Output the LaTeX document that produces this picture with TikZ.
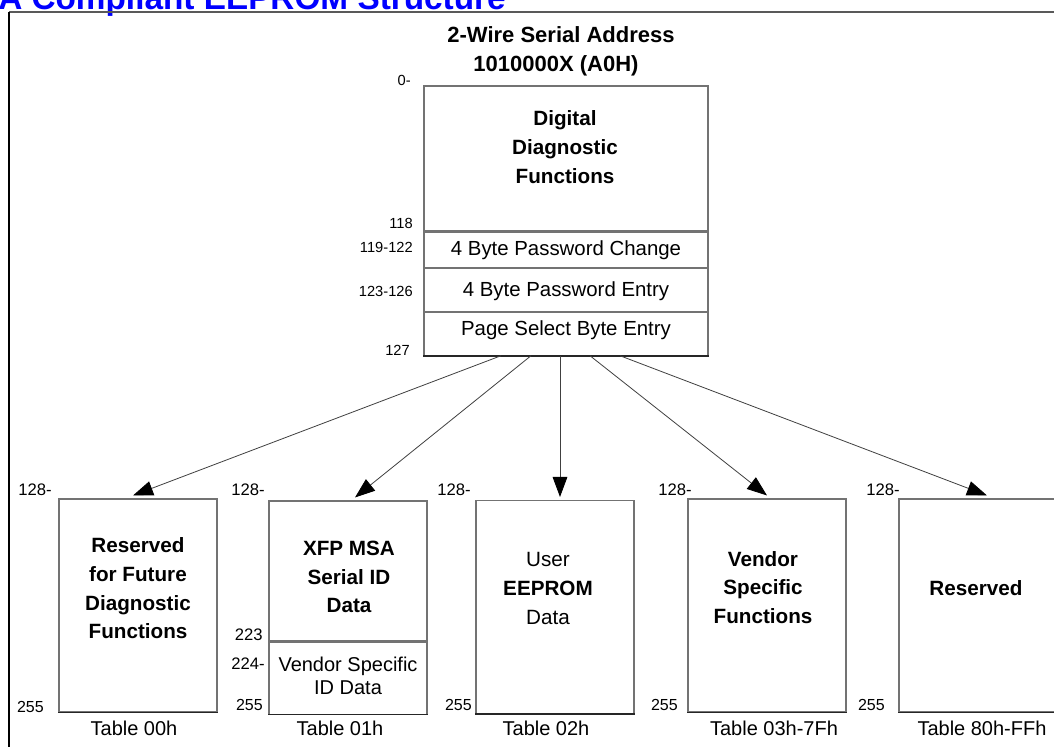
\documentclass[tikz,border=0pt]{standalone}
\usepackage{fontspec}
\setmainfont{Liberation Sans}
\usetikzlibrary{calc,arrows.meta}

\tikzset{
  membox/.style={draw=black!55, line width=0.8pt, inner sep=0pt, minimum width=118.5pt, minimum height=159.75pt},
  rowbox/.style={draw=black!55, line width=0.8pt, inner sep=0pt, minimum width=213pt},
  edge/.style={black!85, line width=1.3pt},
  conn/.style={black!75, line width=0.6pt, -{Triangle[length=15pt,width=11pt,color=black]}},
  hdr/.style={font=\fontsize{16.5}{19}\selectfont\bfseries},
  bold/.style={font=\fontsize{15.5}{21.5}\selectfont\bfseries, align=center},
  plain/.style={font=\fontsize{15.5}{21.5}\selectfont, align=center},
  rowtxt/.style={font=\fontsize{15.3}{17}\selectfont},
  num/.style={font=\fontsize{12.5}{14}\selectfont, anchor=east, inner sep=0pt},
  addrnum/.style={font=\fontsize{11}{13}\selectfont, anchor=east, inner sep=0pt},
  small/.style={font=\fontsize{12}{13}\selectfont, anchor=east, inner sep=0pt},
  tab/.style={font=\fontsize{15}{17}\selectfont}
}

\begin{document}
\begin{tikzpicture}[x=0.75pt,y=-0.75pt]

% Page size and clipping
\useasboundingbox (0,0) rectangle (1054,747);
\clip (0,0) rectangle (1054,747);
\fill[white] (0,0) rectangle (1054,747);

% Title, cut at the top
\node[font=\fontsize{25}{28}\selectfont\bfseries, text=blue, anchor=base west, inner sep=0pt] (ttl) at (-2,9) {A Compliant EEPROM Structure};

% Outer frame
\coordinate (F) at (9,12);
\draw[black!65, line width=1.2pt] (F) -- (1054,12);
\draw[black, line width=0.9pt] (F) -- (9,747);

% Header
\node[hdr] (addr) at (561,35) {2-Wire Serial Address};
\node[hdr] (hex) at (556,66) {1010000X (A0H)};

% Lower memory (A0h, bytes 0-127)
\node[rowbox, minimum height=108.75pt] (ddf) at (566,158.5) {};
\node[rowbox, minimum height=26.25pt, anchor=north] (pwchg) at (ddf.south) {};
\node[rowbox, minimum height=32.25pt, anchor=north] (pwent) at (pwchg.south) {};
\node[rowbox, minimum height=32.25pt, anchor=north] (pgsel) at (pwent.south) {};

\node[bold] at (565,147) {Digital\\Diagnostic\\Functions};
\node[rowtxt] at ($(pwchg)+(0,1)$) {4 Byte Password Change};
\node[rowtxt] at ($(pwent)+(0,2)$) {4 Byte Password Entry};
\node[rowtxt] at ($(pgsel)+(0,-3)$) {Page Select Byte Entry};

% Byte addresses of the lower memory
\node[addrnum] at (411,80) {0-};
\node[addrnum] at (413,223) {118};
\node[addrnum] at (413,247) {119-122};
\node[addrnum] at (413,291) {123-126};
\node[addrnum] at (410,350) {127};

% Upper memory tables (bytes 128-255)
\node[membox] (t00) at (138,605.5) {};
\node[membox, minimum height=105pt] (t01) at (348,571) {};
\node[membox, minimum height=54pt, anchor=north] (t01v) at (t01.south) {};
\node[membox] (t02) at (555,607) {};
\node[membox] (t03) at (767,605.5) {};
\node[membox] (t04) at (978,605.5) {};

% Darker bottom edges
\foreach \b in {pgsel,t00,t01v,t02,t03,t04}
  \draw[edge] (\b.south west) -- (\b.south east);

% Table contents
\node[bold] at (138,588.5) {Reserved\\for Future\\Diagnostic\\Functions};
\node[bold] at (349,577) {XFP MSA\\Serial ID\\Data};
\node[plain, font=\fontsize{15}{17.25}\selectfont] at (348,675.5) {Vendor Specific\\ID Data};
\node[plain] at (548,559) {User};
\node[bold] at (548,588) {EEPROM};
\node[plain] at (548,617) {Data};
\node[bold] at (763,587.5) {Vendor\\Specific\\Functions};
\node[bold] at (976,588) {Reserved};

% Byte addresses of the tables
\node[num] at (52,490) {128-};
\node[num] at (265,490) {128-};
\node[num] at (471,490) {128-};
\node[num] at (692,490) {128-};
\node[num] at (900,490) {128-};
\node[small] at (44,707) {255};
\node[small] at (263,705) {255};
\node[small] at (472,705) {255};
\node[small] at (678,705) {255};
\node[small] at (885,705) {255};
\node[num] at (263,635) {223};
\node[num] at (265,664) {224-};

% Table names
\node[tab] at (134,728) {Table 00h};
\node[tab] at (340,728) {Table 01h};
\node[tab] at (546,728) {Table 02h};
\node[tab] at (774,728) {Table 03h-7Fh};
\node[tab] at (982,728) {Table 80h-FFh};

% Page select arrows
\foreach \s/\t/\e in {-65/t00/-5, -35/t01/7, -6/t02/5, 24/t03/0, 54/t04/9}
  \draw[conn] ($(pgsel.south)+(\s,0)$) -- ($(\t.north)+(\e,-3)$);

\end{tikzpicture}
\end{document}
